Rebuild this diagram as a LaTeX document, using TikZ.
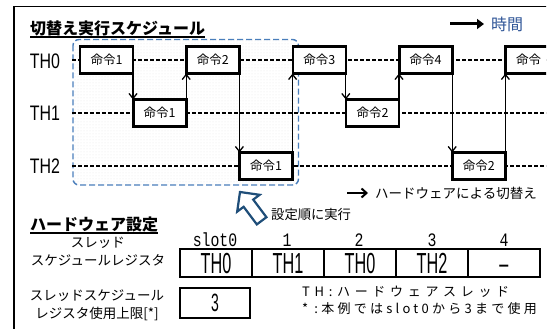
\documentclass[tikz,border=0pt]{standalone}
\usepackage{fontspec}
\setmainfont{Noto Sans CJK JP}
\newfontfamily\narrowA[FakeStretch=0.76]{Liberation Sans}
\newfontfamily\narrowB[FakeStretch=0.56]{Liberation Sans}
\newfontfamily\monof[FakeStretch=0.78]{Liberation Mono}
\newfontfamily\notesA[LetterSpace=36]{Noto Sans CJK JP}
\newfontfamily\notesB[LetterSpace=25]{Noto Sans CJK JP}
\usetikzlibrary{arrows.meta,patterns}
\definecolor{frameblue}{HTML}{4A7EBB}
\definecolor{navyblue}{HTML}{1F4E79}
\definecolor{timeblue}{HTML}{2F5597}
\begin{document}
\begin{tikzpicture}[x=1pt,y=-1pt,
  cmdbox/.style={draw, line width=2.6pt, fill=white, minimum width=53pt, minimum height=27pt,
    inner sep=0pt, outer sep=0pt, font=\fontsize{12.5}{12.5}\selectfont},
  swarrow/.style={line width=1.3pt, -{Straight Barb[length=5pt,width=8pt]}},
  thread/.style={line width=1.3pt, dash pattern=on 4pt off 2pt},
  thlbl/.style={inner sep=0pt, font=\narrowA\fontsize{21}{21}\selectfont},
  regbox/.style={draw, line width=2.8pt, fill=white, minimum width=72pt, minimum height=28pt,
    inner sep=0pt, outer sep=0pt, text height=20.5pt, text depth=0pt,
    font=\narrowB\fontsize{29}{29}\selectfont},
  slotlbl/.style={inner sep=0pt, font=\monof\fontsize{19}{19}\selectfont},
  jtext/.style={inner sep=0pt, font=\fontsize{13.5}{18}\selectfont},
  heading/.style={inner sep=0pt, anchor=west, font=\bfseries\fontsize{16}{16}\selectfont},
]
\useasboundingbox (0,0) rectangle (550,329);
\begin{scope}
\clip (0,0) rectangle (546,329);
% frame
\draw[line width=1.5pt] (14,335) -- (14,6.5) -- (560,6.5);

% title
\node[heading] (title) at (30,28) {切替え実行スケジュール};
\draw[line width=1.6pt] ([yshift=-1pt]title.south west) -- ([yshift=-1pt]title.south east);

% time legend
\node[inner sep=0pt, anchor=west, text=timeblue, font=\fontsize{16}{16}\selectfont] (timelbl) at (491,24) {時間};
\coordinate (timestart) at (450,24);
\draw[line width=3pt, -{Triangle[length=7pt,width=10pt]}] (timestart) -- ([xshift=-7pt]timelbl.west);

% blue dashed group
\draw[frameblue, line width=1.4pt, dash pattern=on 6pt off 3pt, rounded corners=6pt,
  pattern=dots, pattern color=black!11] (73,39.5) rectangle (298.5,185);

% thread labels and lines
\node[thlbl] (th0) at (45,61) {TH0};
\node[thlbl] (th1) at (45,113) {TH1};
\node[thlbl] (th2) at (45,166) {TH2};
\coordinate (l0s) at (72,60);  \coordinate (l0e) at (560,60);
\coordinate (l1s) at (72,113); \coordinate (l1e) at (560,113);
\coordinate (l2s) at (72,166); \coordinate (l2e) at (560,166);
\draw[thread] (l0s) -- (l0e);
\draw[thread] (l1s) -- (l1e);
\draw[thread] (l2s) -- (l2e);

% instruction boxes
\node[cmdbox] (c1) at (106.5,60) {命令1};
\node[cmdbox] (c2) at (159.7,113) {命令1};
\node[cmdbox] (c3) at (212.9,60) {命令2};
\node[cmdbox] (c4) at (266.1,166) {命令1};
\node[cmdbox] (c5) at (319.3,60) {命令3};
\node[cmdbox] (c6) at (372.5,113) {命令2};
\node[cmdbox] (c7) at (425.7,60) {命令4};
\node[cmdbox] (c8) at (478.9,166) {命令2};
\node[cmdbox] (c9) at (532.1,60) {命令\phantom{5}};

% switching arrows
\draw[swarrow] (c1.south east) -- (c1.south east |- c2.north);
\draw[swarrow] (c2.north east) -- (c2.north east |- c3.south);
\draw[swarrow] (c3.south east) -- (c3.south east |- c4.north);
\draw[swarrow] (c4.north east) -- (c4.north east |- c5.south);
\draw[swarrow] (c5.south east) -- (c5.south east |- c6.north);
\draw[swarrow] (c6.north east) -- (c6.north east |- c7.south);
\draw[swarrow] (c7.south east) -- (c7.south east |- c8.north);
\draw[swarrow] (c8.north east) -- (c8.north east |- c9.south);

% hollow arrow
\draw[navyblue, line width=2.2pt, fill=white, line join=miter]
  (240,192) -- (259.6,194.8) -- (253.2,199.6) -- (266.4,217.2) -- (256.8,224.4)
  -- (243.6,206.8) -- (237.2,211.6) -- cycle;
\node[jtext, anchor=west, font=\fontsize{13.3}{13.3}\selectfont] (order) at (271,214) {設定順に実行};

% switch legend
\node[jtext, anchor=west] (swl) at (375,193) {ハードウェアによる切替え};
\coordinate (swa) at (347,193);
\draw[line width=2pt, -{Straight Barb[length=5pt,width=9pt]}] (swa) -- ([xshift=-7pt]swl.west);

% hardware settings
\node[heading] (hw) at (30,224) {ハードウェア設定};
\draw[line width=1.6pt] ([yshift=-1pt]hw.south west) -- ([yshift=-1pt]hw.south east);

\node[jtext, align=center] (reglbl) at (98,252) {スレッド\\スケジュールレジスタ};
\node[regbox] (r0) at (216,263) {TH0};
\node[regbox] (r1) at (288,263) {TH1};
\node[regbox] (r2) at (360,263) {TH0};
\node[regbox] (r3) at (432,263) {TH2};
\node[regbox] (r4) at (504,263) {–};
\node[slotlbl] (s0) at (215,240) {slot0};
\node[slotlbl] (s1) at (287,240) {1};
\node[slotlbl] (s2) at (359,240) {2};
\node[slotlbl] (s3) at (432,240) {3};
\node[slotlbl] (s4) at (504,240) {4};

\node[jtext, align=center] (limlbl) at (97,305) {スレッドスケジュール\\レジスタ使用上限[*]};
\node[regbox, minimum width=70pt, minimum height=30pt, text height=18pt,
  font=\narrowB\fontsize{25}{25}\selectfont] (limv) at (215,303) {3};

\node[inner sep=0pt, anchor=west, font=\notesA\fontsize{13}{13}\selectfont] (note1) at (302,292) {TH:ハードウェアスレッド};
\node[inner sep=0pt, anchor=west, font=\notesB\fontsize{13}{13}\selectfont] (note2) at (302,309) {*\ :本例ではslot0から3まで使用};
\end{scope}
\end{tikzpicture}
\end{document}
